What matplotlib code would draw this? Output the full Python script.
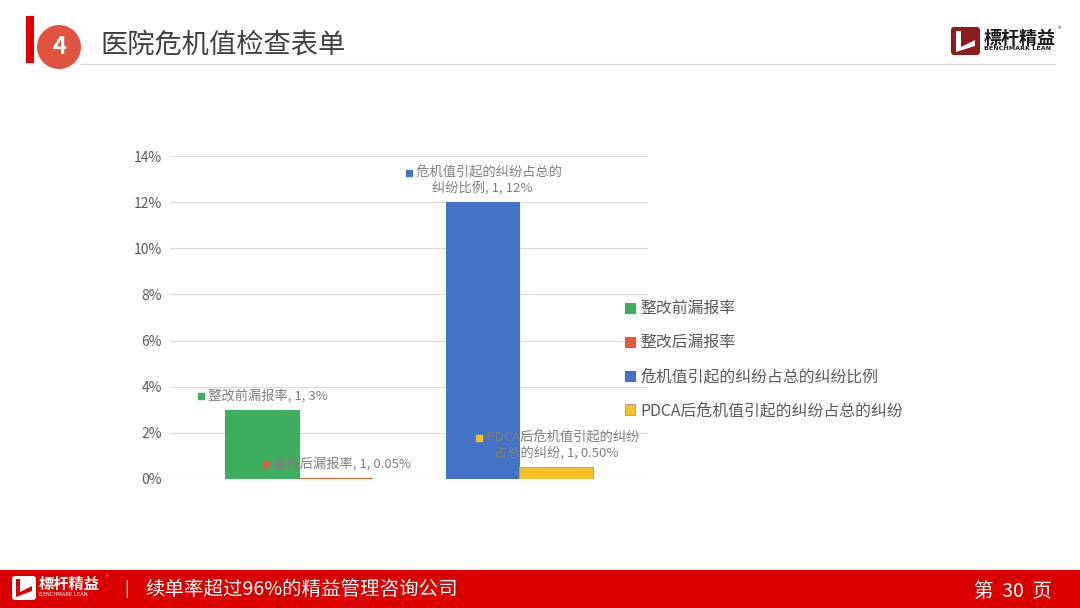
import matplotlib
matplotlib.use("Agg")
import matplotlib.pyplot as plt
from matplotlib.patches import Rectangle, Circle, Polygon, FancyBboxPatch
from matplotlib.transforms import IdentityTransform

plt.rcParams['font.family'] = ['Noto Sans CJK SC', 'DejaVu Sans']

# data
series = ["整改前漏报率", "整改后漏报率", "危机值引起的纠纷占总的纠纷比例", "PDCA后危机值引起的纠纷占总的纠纷"]
values = [0.03, 0.0005, 0.12, 0.005]
label_lines = ["整改前漏报率, 1, 3%",
               "整改后漏报率, 1, 0.05%",
               "危机值引起的纠纷占总的\n纠纷比例, 1, 12%",
               "PDCA后危机值引起的纠纷\n占总的纠纷, 1, 0.50%"]
positions = [1.25, 2.25, 4.25, 5.25]
colors = ["#3DAE5E", "#E55B38", "#4472C4", "#F4C025"]
yticks = [0, 0.02, 0.04, 0.06, 0.08, 0.10, 0.12, 0.14]

W, H = 1080, 608
fig = plt.figure(figsize=(W / 100, H / 100), dpi=100)

# overlay in pixel units for header / footer decoration
bg = fig.add_axes([0, 0, 1, 1], zorder=0)
bg.set_xlim(0, W)
bg.set_ylim(H, 0)
bg.axis("off")

# header
bg.add_patch(Rectangle((26, 16), 8, 47, color="#E00000", lw=0))
bg.add_patch(Circle((59, 47), 22, color="#E0533F", lw=0))
bg.text(59, 47, "4", color="white", fontsize=17, fontweight="bold", ha="center", va="center")
bg.text(100, 45, "医院危机值检查表单", color="#404040", fontsize=19.6, ha="left", va="center")
bg.plot([80, 1055], [64, 64], color="#D8D8D8", lw=0.8)

# top right logo
bg.add_patch(FancyBboxPatch((951, 27), 29, 28, boxstyle="round,pad=0,rounding_size=3",
                            color="#8E1B1B", lw=0))
bg.add_patch(Polygon([(956, 31), (961, 31), (961, 47), (975, 40), (975, 46), (956, 52)],
                     color="white", lw=0))
bg.text(984, 38, "標杆精益", color="#1A1A1A", fontsize=13, fontweight="bold", ha="left", va="center")
bg.text(984, 49, "BENCHMARK LEAN", color="#1A1A1A", fontsize=4.6, fontweight="bold",
        ha="left", va="center", family="DejaVu Sans")
bg.text(1059, 29, "®", color="#333333", fontsize=5, ha="center", va="center")

# footer
bg.add_patch(Rectangle((0, 570), W, 38, color="#DA0000", lw=0))
bg.add_patch(FancyBboxPatch((12, 576), 24, 24, boxstyle="round,pad=0,rounding_size=3",
                            color="white", lw=0))
bg.add_patch(Polygon([(16, 579), (20, 579), (20, 592), (32, 586), (32, 591), (16, 597)],
                     color="#DA0000", lw=0))
bg.text(39, 584, "標杆精益", color="white", fontsize=11, fontweight="bold", ha="left", va="center")
bg.text(39, 595, "BENCHMARK LEAN", color="white", fontsize=3.8, ha="left", va="center",
        family="DejaVu Sans")
bg.text(107, 578, "®", color="white", fontsize=4, ha="center", va="center")
bg.text(127, 589, "|", color="white", fontsize=12, ha="center", va="center")
bg.text(145, 589, "续单率超过96%的精益管理咨询公司", color="white", fontsize=14, ha="left", va="center")
bg.text(1052, 591, "第  30  页", color="white", fontsize=14, ha="right", va="center")

# chart
ax = fig.add_axes([170 / W, 1 - 479 / H, (648 - 170) / W, (479 - 156) / H], zorder=1)
ax.set_facecolor("none")
for p, v, c, name in zip(positions, values, colors, series):
    ec = "#A6A6A6" if name.startswith("PDCA") else c
    ax.bar(p, v, width=1.0, color=c, edgecolor=ec, linewidth=0.8, label=name, zorder=3)

ax.set_xlim(0, 6.5)
ax.set_ylim(0, 0.14)
ax.set_yticks(yticks)
ax.set_yticklabels(["%d%%" % round(t * 100) for t in yticks], color="#595959", fontsize=10)
ax.set_xticks([])
ax.tick_params(axis="y", length=0, pad=6)
for s in ax.spines.values():
    s.set_visible(False)
ax.grid(axis="y", color="#D9D9D9", lw=0.8, zorder=0)

# data labels
texts = []
for p, v, lab in zip(positions, values, label_lines):
    two = "\n" in lab
    off = 15.8 if two else 10
    t = ax.annotate("\u3000" + lab, (p, v), xytext=(0, off), textcoords="offset points",
                    ha="center", va="center", fontsize=9.5, color="#7F7F7F",
                    multialignment="center", linespacing=1.15, zorder=4)
    texts.append((t, two))

leg = ax.legend(loc="upper left", bbox_to_anchor=(611 / W, 1 - 286 / H),
                bbox_transform=fig.transFigure, frameon=False, fontsize=11.4,
                handlelength=0.6, handleheight=0.6, handletextpad=0.35,
                labelspacing=1.07, labelcolor="#595959")

fig.canvas.draw()
rend = fig.canvas.get_renderer()
for (t, two), c in zip(texts, colors):
    bb = t.get_window_extent(rend)
    if two:
        yc = bb.y1 - (bb.y1 - bb.y0) / 4
    else:
        yc = (bb.y0 + bb.y1) / 2
    ax.plot([bb.x0 + 6], [yc], marker="s", ms=5, color=c, mec=c, zorder=6,
            transform=IdentityTransform(), clip_on=False)

fig.savefig("out.png", dpi=100)
